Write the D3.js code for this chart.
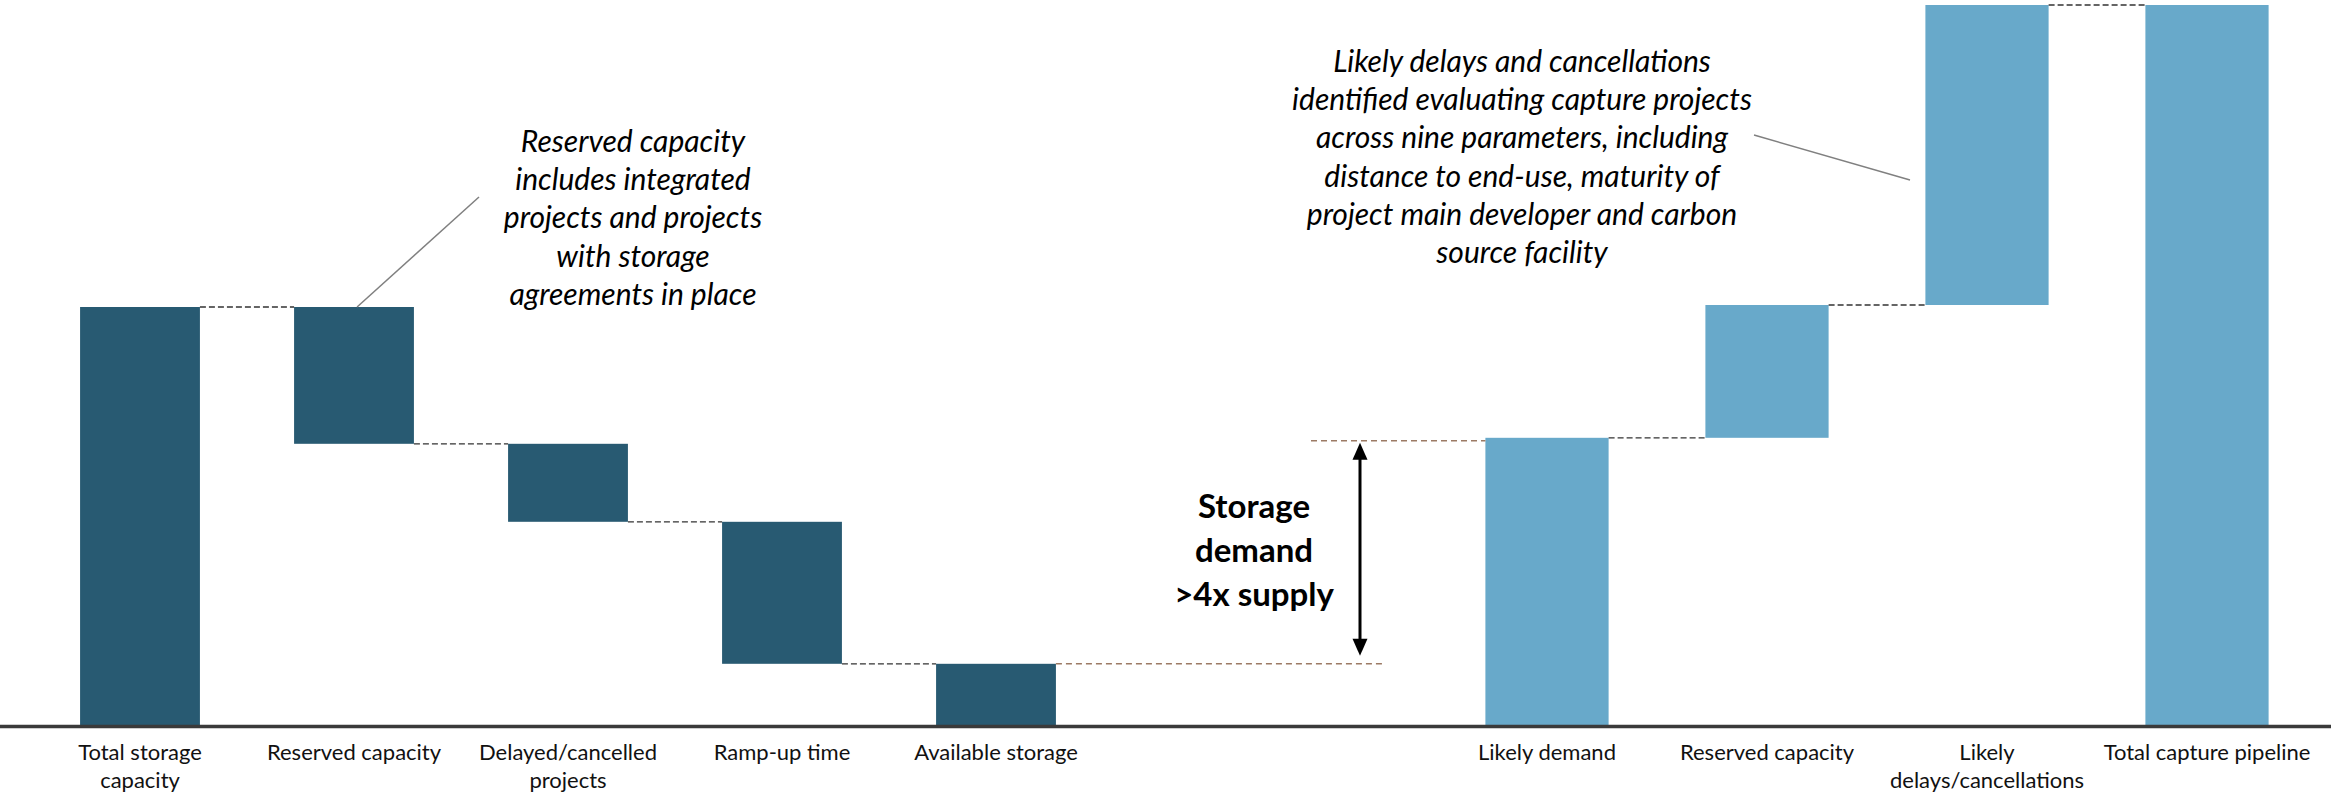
<!DOCTYPE html>
<html>
<head>
<meta charset="utf-8">
<script src="https://cdn.jsdelivr.net/npm/d3@7"></script>
<style>
body{margin:0;background:#fff;}
svg{display:block;}
</style>
</head>
<body>
<script>
// storage side (Mt CO2 per year, approx)
var storageLabels = [["Total storage","capacity"],["Reserved capacity"],["Delayed/cancelled","projects"],["Ramp-up time"],["Available storage"]];
var storageValues = [104.5, -34.2, -19.5, -35.5, 15.3];
var storageTypes = ["total","delta","delta","delta","total"];

// capture side
var captureLabels = [["Likely demand"],["Reserved capacity"],["Likely","delays/cancellations"],["Total capture pipeline"]];
var captureValues = [71.8, 33.2, 75, 180];
var captureTypes = ["total","delta","delta","total"];

var leftNote = ["Reserved capacity","includes integrated","projects and projects","with storage","agreements in place"];
var rightNote = ["Likely delays and cancellations","identified evaluating capture projects","across nine parameters, including","distance to end-use, maturity of","project main developer and carbon","source facility"];
var gapNote = ["Storage","demand",">4x supply"];

var screen = {width:2331,height:798}
var baseY = 725
var font = "Lato, 'Noto Sans', sans-serif"

var svg = d3.select("body")
    .append("svg")
    .attr("width",screen.width)
    .attr("height",screen.height)

var yScale = d3.scaleLinear()
    .domain([0,180])
    .range([baseY,5])

// turn values into start/end pairs for a waterfall
var makeSteps = function(values,types)
{
    var running = 0
    return values.map(function(v,i){
        var s
        if(types[i]=="total"){ s = {start:0,end:v}; running = v }
        else { s = {start:running,end:running+v}; running = running+v }
        s.i = i
        s.level = running
        return s
    })
}

var drawWaterfall = function(values,types,labels,x0,x1,color)
{
    var steps = makeSteps(values,types)
    var xScale = d3.scaleBand()
        .domain(d3.range(values.length))
        .range([x0,x1])
        .paddingInner(0.44)
        .paddingOuter(0.22)
    var bw = xScale.bandwidth()

    var g = svg.append("g")

    g.selectAll("rect")
        .data(steps)
        .enter()
        .append("rect")
        .attr("x",function(d){return xScale(d.i)})
        .attr("width",bw)
        .attr("y",function(d){return yScale(Math.max(d.start,d.end))})
        .attr("height",function(d){return Math.abs(yScale(d.start)-yScale(d.end))})
        .attr("fill",color)

    // dashed connectors between bars
    g.selectAll("line.conn")
        .data(steps.slice(0,steps.length-1))
        .enter()
        .append("line")
        .attr("class","conn")
        .attr("x1",function(d){return xScale(d.i)+bw})
        .attr("x2",function(d){return xScale(d.i+1)})
        .attr("y1",function(d){return yScale(d.level)})
        .attr("y2",function(d){return yScale(d.level)})
        .attr("stroke","#333")
        .attr("stroke-width",1.3)
        .attr("stroke-dasharray","6,3")

    var xAxis = d3.axisBottom(xScale).tickSize(0).tickFormat("")
    var axis = g.append("g")
        .attr("transform","translate(0,"+(baseY+1)+")")
        .call(xAxis)
    axis.select(".domain").remove()
    axis.selectAll(".tick text")
        .attr("y",34)
        .attr("dy",null)
        .attr("fill","#111")
        .style("font-family",font)
        .style("font-size","22px")
        .each(function(d){
            var t = d3.select(this)
            labels[d].forEach(function(line,k){
                t.append("tspan").attr("x",0).attr("dy",k==0?0:28).text(line)
            })
        })

    return {x:xScale,steps:steps}
}

var left = drawWaterfall(storageValues,storageTypes,storageLabels,33,1103,"#285a72")
var right = drawWaterfall(captureValues,captureTypes,captureLabels,1437,2317,"#68a9ca")

// baseline
svg.append("line")
    .attr("x1",0).attr("x2",screen.width)
    .attr("y1",baseY+1.5).attr("y2",baseY+1.5)
    .attr("stroke","#3a3a3a")
    .attr("stroke-width",3.5)

// supply vs demand guide lines
var supplyY = yScale(storageValues[storageValues.length-1])
var demandY = yScale(captureValues[0])
var lastLeft = left.x(storageValues.length-1)+left.x.bandwidth()
svg.append("line")
    .attr("x1",lastLeft).attr("x2",1384)
    .attr("y1",supplyY).attr("y2",supplyY)
    .attr("stroke","#9c7a64").attr("stroke-width",1.4)
    .attr("stroke-dasharray","6,4")
svg.append("line")
    .attr("x1",1311).attr("x2",right.x(0))
    .attr("y1",demandY+3).attr("y2",demandY+3)
    .attr("stroke","#9c7a64").attr("stroke-width",1.4)
    .attr("stroke-dasharray","6,4")

// double arrow
var ax = 1360, arrowTop = demandY+5, arrowBot = supplyY-8
svg.append("line")
    .attr("x1",ax).attr("x2",ax)
    .attr("y1",arrowTop+12).attr("y2",arrowBot-12)
    .attr("stroke","#000").attr("stroke-width",3)
svg.append("path")
    .attr("d","M"+ax+","+arrowTop+"L"+(ax-7.5)+","+(arrowTop+17)+"L"+(ax+7.5)+","+(arrowTop+17)+"Z")
    .attr("fill","#000")
svg.append("path")
    .attr("d","M"+ax+","+arrowBot+"L"+(ax-7.5)+","+(arrowBot-17)+"L"+(ax+7.5)+","+(arrowBot-17)+"Z")
    .attr("fill","#000")

var gapText = svg.append("text")
    .attr("text-anchor","middle")
    .style("font-family",font)
    .style("font-size","33px")
    .style("font-weight","bold")
    .attr("fill","#000")
gapNote.forEach(function(line,k){
    gapText.append("tspan").attr("x",1254).attr("y",518+k*44).text(line)
})

// annotations
var drawNote = function(lines,cx,y0)
{
    var t = svg.append("text")
        .attr("text-anchor","middle")
        .style("font-family",font)
        .style("font-size","30px")
        .style("font-style","italic")
        .attr("fill","#000")
    lines.forEach(function(line,k){
        t.append("tspan").attr("x",cx).attr("y",y0+k*38.2).text(line)
    })
}
drawNote(leftNote,633,152)
drawNote(rightNote,1522,72)

svg.append("line")
    .attr("x1",479).attr("y1",197)
    .attr("x2",left.x(1)+63).attr("y2",yScale(storageValues[0]))
    .attr("stroke","#808080").attr("stroke-width",1.5)
svg.append("line")
    .attr("x1",1754).attr("y1",135)
    .attr("x2",1910).attr("y2",180)
    .attr("stroke","#808080").attr("stroke-width",1.5)
</script>
</body>
</html>
